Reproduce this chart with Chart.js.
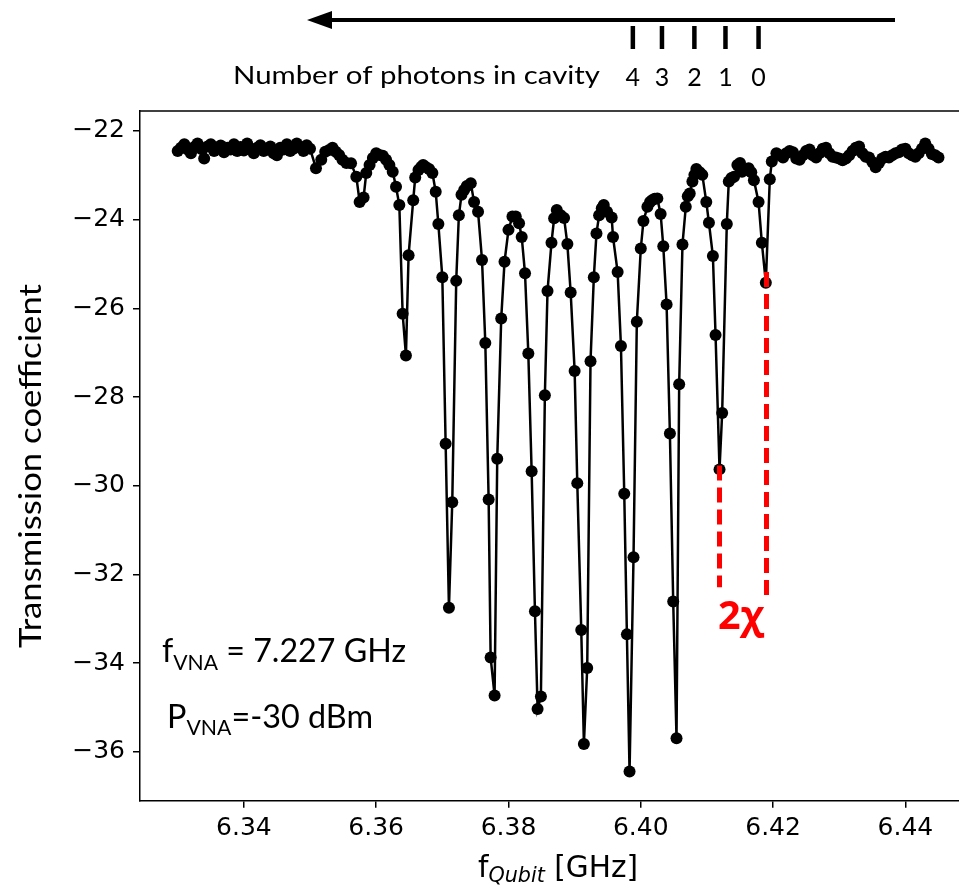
<!DOCTYPE html>
<html><head><meta charset="utf-8">
<script src="https://cdn.jsdelivr.net/npm/chart.js@4.4.1/dist/chart.umd.min.js"></script>
<style>html,body{margin:0;padding:0;background:#fff;overflow:hidden}#c{display:block}</style>
</head><body>
<canvas id="c" width="959" height="886" style="width:959px;height:886px"></canvas>
<script>
// ---- data ----
const freqLeftFlat = [6.3300,6.3305,6.3310,6.3315,6.3320,6.3325,6.3330,6.3335,6.3340,6.3345,
  6.3350,6.3355,6.3360,6.3365,6.3370,6.3375,6.3380,6.3385,6.3390,6.3395,
  6.3400,6.3405,6.3410,6.3415,6.3420,6.3425,6.3430,6.3435,6.3440,6.3445,
  6.3450,6.3455,6.3460,6.3465,6.3470,6.3475,6.3480,6.3485,6.3490,6.3495,6.3500];
const transLeftFlat = [-22.45,-22.38,-22.30,-22.42,-22.50,-22.36,-22.28,-22.40,-22.62,-22.35,
  -22.30,-22.45,-22.40,-22.33,-22.48,-22.38,-22.42,-22.30,-22.45,-22.36,
  -22.44,-22.28,-22.40,-22.50,-22.38,-22.32,-22.45,-22.40,-22.35,-22.50,
  -22.55,-22.38,-22.42,-22.30,-22.45,-22.40,-22.28,-22.36,-22.45,-22.32,-22.40];
const freqDips = [6.3509,6.3517,6.3523,6.3529,6.3534,6.3539,6.3544,6.3549,6.3555,6.3562,
  6.3570,6.3575,6.3581,6.3585,6.3590,6.3595,6.3600,6.3605,6.3610,6.3615,
  6.3620,6.3625,6.3630,6.3635,6.3640,6.3645,6.3649,6.3656,6.3659,6.3664,
  6.3668,6.3671,6.3675,6.3680,6.3685,6.3690,6.3694,6.3700,6.3705,6.3710,
  6.3715,6.3721,6.3725,6.3729,6.3733,6.3737,6.3743,6.3748,6.3754,6.3760,
  6.3765,6.3770,6.3773,6.3779,6.3783,6.3789,6.3794,6.3800,6.3806,6.3811,
  6.3816,6.3820,6.3825,6.3830,6.3835,6.3840,6.3844,6.3849,6.3855,6.3859,
  6.3865,6.3869,6.3873,6.3879,6.3884,6.3889,6.3894,6.3900,6.3904,6.3910,
  6.3914,6.3919,6.3924,6.3929,6.3933,6.3937,6.3941,6.3944,6.3949,6.3956,
  6.3958,6.3965,6.3970,6.3975,6.3979,6.3983,6.3989,6.3994,6.4000,6.4004,
  6.4010,6.4014,6.4017,6.4021,6.4025,6.4030,6.4034,6.4039,6.4044,6.4049,
  6.4054,6.4058,6.4063,6.4068,6.4071,6.4074,6.4078,6.4081,6.4084,6.4089,
  6.4093,6.4099,6.4103,6.4109,6.4113,6.4119,6.4123,6.4130,6.4133,6.4137,
  6.4141,6.4146,6.4150,6.4153,6.4158,6.4163,6.4167,6.4171,6.4178,6.4183,
  6.4189,6.4195,6.4198,6.4205];
const transDips = [-22.84,-22.65,-22.47,-22.43,-22.38,-22.47,-22.54,-22.65,-22.72,-22.73,
  -23.03,-23.60,-23.50,-22.95,-22.77,-22.61,-22.50,-22.54,-22.56,-22.65,
  -22.77,-22.92,-23.26,-23.67,-26.12,-27.06,-24.80,-23.56,-23.05,-22.88,
  -22.81,-22.77,-22.81,-22.86,-22.95,-23.37,-24.10,-25.30,-29.05,-32.75,
  -30.37,-25.38,-23.90,-23.44,-23.33,-23.24,-23.18,-23.60,-23.82,-24.91,
  -26.78,-30.31,-33.87,-34.73,-29.39,-26.23,-24.95,-24.23,-23.93,-23.93,
  -24.08,-24.39,-25.21,-27.02,-29.67,-32.83,-35.03,-34.75,-27.96,-25.61,
  -24.52,-23.97,-23.78,-23.90,-23.96,-24.55,-25.64,-27.41,-29.94,-33.25,
  -35.82,-34.11,-27.19,-25.30,-24.31,-23.90,-23.74,-23.67,-23.82,-23.95,
  -24.39,-25.18,-26.85,-30.18,-33.35,-36.44,-31.61,-26.30,-24.65,-24.03,
  -23.71,-23.60,-23.56,-23.53,-23.52,-23.87,-24.60,-25.91,-28.82,-32.61,
  -35.69,-27.71,-24.56,-23.71,-23.47,-23.41,-23.14,-22.99,-22.86,-22.93,
  -22.99,-23.60,-24.07,-24.82,-26.60,-29.63,-28.36,-24.10,-23.14,-23.06,
  -23.03,-22.77,-22.72,-22.92,-22.88,-22.84,-22.93,-23.11,-23.60,-24.52,
  -25.42,-23.09,-22.69,-22.50];
const freqRightFlat = [6.4210,6.4215,6.4220,6.4225,6.4230,6.4235,6.4240,6.4245,6.4250,6.4255,
  6.4260,6.4265,6.4270,6.4275,6.4280,6.4285,6.4290,6.4295,6.4300,6.4305,
  6.4310,6.4315,6.4320,6.4325,6.4330,6.4335,6.4340,6.4345,6.4350,6.4355,
  6.4360,6.4365,6.4370,6.4375,6.4380,6.4385,6.4390,6.4395,6.4400,6.4405,
  6.4410,6.4415,6.4420,6.4425,6.4430,6.4435,6.4440,6.4445,6.4450];
const transRightFlat = [-22.55,-22.60,-22.50,-22.45,-22.48,-22.62,-22.65,-22.55,-22.45,-22.42,
  -22.55,-22.60,-22.50,-22.40,-22.38,-22.50,-22.58,-22.60,-22.62,-22.66,
  -22.62,-22.55,-22.45,-22.38,-22.35,-22.50,-22.58,-22.60,-22.70,-22.82,
  -22.72,-22.62,-22.58,-22.60,-22.55,-22.50,-22.48,-22.42,-22.40,-22.50,
  -22.55,-22.58,-22.50,-22.40,-22.28,-22.40,-22.52,-22.55,-22.60];

const xTickValues = [6.34, 6.36, 6.38, 6.40, 6.42, 6.44];
const yTickValues = [-22, -24, -26, -28, -30, -32, -34, -36];
const photonLabels = ['4', '3', '2', '1', '0'];
const photonMarkFreqs = [6.3988, 6.4032, 6.4081, 6.4128, 6.4178];
const chiLowerFreq = 6.4119, chiUpperFreq = 6.4190;
const chiLine1 = [-29.54, -32.29];
const chiLine2 = [-25.18, -32.47];

const freqAll = freqLeftFlat.concat(freqDips, freqRightFlat);
const transAll = transLeftFlat.concat(transDips, transRightFlat);
const points = freqAll.map((f, i) => ({x: f, y: transAll[i]}));

function drawRuns(ctx, runs, x, baseline, targetWidth) {
  let total = 0;
  runs.forEach(r => { ctx.font = r.font; r.w = ctx.measureText(r.t).width; total += r.w; });
  const sx = targetWidth ? targetWidth / total : 1;
  ctx.save();
  ctx.translate(x, baseline);
  ctx.scale(sx, 1);
  ctx.textAlign = 'left';
  ctx.textBaseline = 'alphabetic';
  let cx = 0;
  runs.forEach(r => { ctx.font = r.font; ctx.fillText(r.t, cx, r.dy || 0); cx += r.w; });
  ctx.restore();
}

const decor = {
  id: 'decor',
  afterDraw(chart) {
    const ctx = chart.ctx, a = chart.chartArea, xs = chart.scales.x;
    ctx.save();
    // top frame line
    ctx.strokeStyle = '#000'; ctx.lineWidth = 1.5;
    ctx.beginPath(); ctx.moveTo(a.left, a.top); ctx.lineTo(a.right, a.top); ctx.stroke();
    // photon-number arrow
    ctx.lineWidth = 4; ctx.lineCap = 'butt';
    ctx.beginPath(); ctx.moveTo(895, 20); ctx.lineTo(326, 20); ctx.stroke();
    ctx.fillStyle = '#000';
    ctx.beginPath(); ctx.moveTo(307, 20); ctx.lineTo(332, 11); ctx.lineTo(332, 29); ctx.closePath(); ctx.fill();
    ctx.lineWidth = 4.5;
    photonMarkFreqs.forEach(f => {
      const px = xs.getPixelForValue(f);
      ctx.beginPath(); ctx.moveTo(px, 26); ctx.lineTo(px, 49); ctx.stroke();
    });
    ctx.fillStyle = '#000';
    drawRuns(ctx, [{t: 'Number of photons in cavity', font: "25px Lato"}], 233, 84, 367);
    ctx.font = "25px Lato"; ctx.textAlign = 'center'; ctx.textBaseline = 'alphabetic';
    photonLabels.forEach((l, i) => ctx.fillText(l, xs.getPixelForValue(photonMarkFreqs[i]), 86));
    // annotations
    drawRuns(ctx, [{t: 'f', font: "32px Lato"}, {t: 'VNA', font: "21px Lato", dy: 8}, {t: ' = 7.227 GHz', font: "32px Lato"}], 162, 662, 244);
    drawRuns(ctx, [{t: 'P', font: "32px Lato"}, {t: 'VNA', font: "21px Lato", dy: 7}, {t: '=-30 dBm', font: "32px Lato"}], 167, 728, 206);
    ctx.fillStyle = '#ff0000';
    drawRuns(ctx, [{t: '2\u03C7', font: "bold 39px 'Open Sans'"}], 718, 629, 46);
    // axis titles
    ctx.fillStyle = '#000';
    ctx.save();
    ctx.translate(31, 466); ctx.rotate(-Math.PI / 2);
    ctx.font = "31px Lato"; ctx.textBaseline = 'middle'; ctx.textAlign = 'left';
    const tw = ctx.measureText('Transmission coefficient').width;
    ctx.scale(364 / tw, 1);
    ctx.fillText('Transmission coefficient', -tw / 2, 0);
    ctx.restore();
    drawRuns(ctx, [{t: 'f', font: "30px 'DejaVu Sans'"}, {t: 'Qubit', font: "italic 21px 'DejaVu Sans'", dy: 5}, {t: ' [GHz]', font: "30px 'DejaVu Sans'"}], 478, 877, 160);
    ctx.restore();
  }
};

new Chart(document.getElementById('c'), {
  type: 'line',
  data: {
    datasets: [
      {data: points, borderColor: '#000', backgroundColor: '#000', borderWidth: 2.5, pointRadius: 6,
       pointBackgroundColor: '#000', pointBorderWidth: 0, tension: 0, order: 1},
      {data: chiLine1.map(v => ({x: chiLowerFreq, y: v})), borderColor: '#ff0000', borderWidth: 5,
       borderDash: [15, 7], pointRadius: 0, order: 0, borderCapStyle: 'butt'},
      {data: chiLine2.map(v => ({x: chiUpperFreq, y: v})), borderColor: '#ff0000', borderWidth: 5,
       borderDash: [15, 7], pointRadius: 0, order: 0, borderCapStyle: 'butt'}
    ]
  },
  options: {
    responsive: false, animation: false, devicePixelRatio: 1,
    layout: {autoPadding: false, padding: {left: 0, right: 0, top: 111, bottom: 0}},
    plugins: {legend: {display: false}, tooltip: {enabled: false}},
    scales: {
      x: {
        type: 'linear', min: 6.3243, max: 6.4481,
        afterBuildTicks: s => { s.ticks = xTickValues.map(v => ({value: v})); },
        afterFit: s => { s.height = 85.3; },
        ticks: {callback: v => v.toFixed(2), font: {family: 'DejaVu Sans', size: 25}, color: '#000',
                padding: 6, maxRotation: 0, autoSkip: false},
        grid: {drawOnChartArea: false, drawTicks: true, tickLength: 7, color: '#000', lineWidth: 1.5},
        border: {display: true, color: '#000', width: 1.5}
      },
      y: {
        type: 'linear', min: -37.1, max: -21.55,
        afterBuildTicks: s => { s.ticks = yTickValues.map(v => ({value: v})); },
        afterFit: s => { s.width = 140; },
        ticks: {callback: v => '\u2212' + Math.abs(v), font: {family: 'DejaVu Sans', size: 25}, color: '#000',
                padding: 8, autoSkip: false},
        grid: {drawOnChartArea: false, drawTicks: true, tickLength: 7, color: '#000', lineWidth: 1.5},
        border: {display: true, color: '#000', width: 1.5}
      }
    }
  },
  plugins: [decor]
});
</script>
</body></html>
